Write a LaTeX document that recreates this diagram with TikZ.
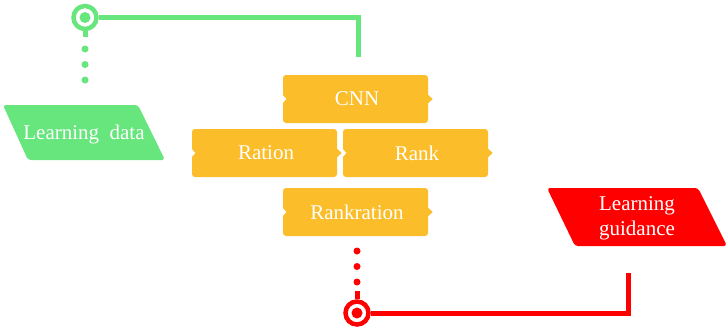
\documentclass[tikz,border=0pt]{standalone}
\usepackage{fontspec}
\setmainfont{Liberation Serif}
\newfontfamily\timesx{Liberation Serif}
\usetikzlibrary{calc}
\definecolor{lgreen}{RGB}{102,230,124}
\definecolor{boxorange}{RGB}{251,189,41}
\definecolor{lred}{RGB}{255,0,0}
\tikzset{
  obox/.style={fill=boxorange, rounded corners=3pt, minimum width=145pt, minimum height=48pt, inner sep=0pt, text=white, font=\timesx\fontsize{21}{24}\selectfont},
  lbl/.style={text=white, font=\timesx\fontsize{21}{25}\selectfont, align=center, inner sep=0pt},
  ring/.style={circle, draw=#1, line width=4.5pt, minimum size=23pt, inner sep=0pt, fill=white},
  cline/.style={draw=#1, line width=5pt},
  dotline/.style={draw=#1, line width=7pt, line cap=round, dash pattern=on 0pt off 15.5pt},
}
\begin{document}
\begin{tikzpicture}[x=1pt,y=-1pt]
\useasboundingbox[fill=white] (0,0) rectangle (727,327);
% parallelograms
\fill[lgreen, rounded corners=3pt] (3,105) -- (138,105) -- (165,160) -- (28,160) -- cycle;
\node[lbl] (ldata) at (84,134) {Learning\ \ data};
\fill[lred, rounded corners=3pt] (547,188) -- (698,188) -- (727,246) -- (575,246) -- cycle;
\node[lbl] (lguide) at (637,218) {Learning\\guidance};
% orange boxes
\node[obox] (cnn) at (355.5,99) {\hspace{3pt}CNN};
\node[obox] (ration) at (264.5,153) {\hspace{3pt}Ration};
\node[obox] (rank) at (415.5,153) {\hspace{3pt}Rank};
\node[obox] (rankr) at (355.5,212) {\hspace{3pt}Rankration};
\foreach \n in {cnn,ration,rank,rankr}{
  \fill[white] ($(\n.west)+(-0.5,-4.5)$) -- ($(\n.west)+(3.5,0)$) -- ($(\n.west)+(-0.5,4.5)$) -- cycle;
  \fill[boxorange] ($(\n.east)+(-0.5,-4.5)$) -- ($(\n.east)+(4.5,0)$) -- ($(\n.east)+(-0.5,4.5)$) -- cycle;
}
% green connector
\node[ring=lgreen] (gstart) at (85,17.5) {};
\fill[lgreen] (gstart.center) circle (5.5);
\coordinate (gend) at (358,57);
\coordinate (gstub) at (85,37);
\path[cline=lgreen] (gstart.east) -- (gend |- gstart) -- (gend);
\path[cline=lgreen] (gstart.south) -- (gstub);
\coordinate (gd1) at (85,49);
\coordinate (gd2) at (85,81);
\path[dotline=lgreen] (gd1) -- (gd2);
% red connector
\node[ring=lred] (rstart) at (357,313) {};
\fill[lred] (rstart.center) circle (5.5);
\coordinate (rend) at (628,273);
\coordinate (rstub) at (357,291);
\path[cline=lred] (rstart.east) -- (rend |- rstart) -- (rend);
\path[cline=lred] (rstart.north) -- (rstub);
\coordinate (rd1) at (357,251);
\coordinate (rd2) at (357,283);
\path[dotline=lred] (rd1) -- (rd2);
\end{tikzpicture}
\end{document}
